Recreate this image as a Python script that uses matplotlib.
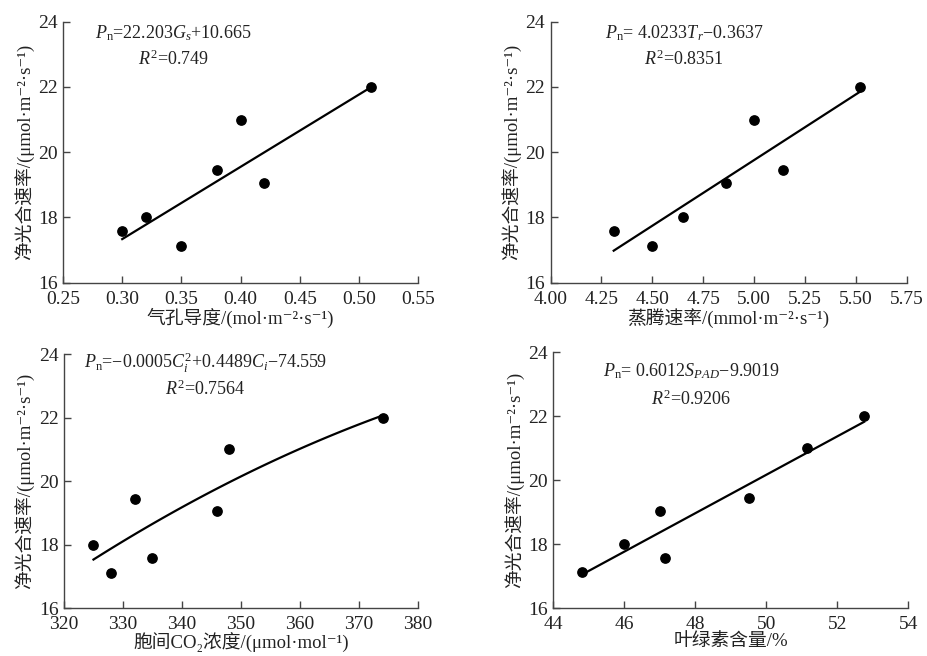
import numpy as np
import matplotlib
matplotlib.use("Agg")
import matplotlib.pyplot as plt

plt.rcParams['font.family'] = ['Liberation Serif', 'Noto Sans CJK SC', 'DejaVu Sans']
plt.rcParams['mathtext.fontset'] = 'custom'
plt.rcParams['mathtext.rm'] = 'Liberation Serif'
plt.rcParams['mathtext.it'] = 'Liberation Serif:italic'
plt.rcParams['axes.unicode_minus'] = False

# Pn values, paired with each driver variable
gs = [0.30, 0.32, 0.35, 0.38, 0.40, 0.42, 0.51]
pn_gs = [17.58, 18.0, 17.12, 19.45, 21.0, 19.05, 22.0]

tr = [4.31, 4.50, 4.65, 4.86, 5.00, 5.14, 5.52]
pn_tr = [17.58, 17.12, 18.0, 19.05, 21.0, 19.45, 22.0]

ci = [325, 328, 332, 335, 346, 348, 374]
pn_ci = [18.0, 17.12, 19.45, 17.58, 19.05, 21.0, 22.0]

spad = [44.8, 46.0, 47.0, 47.15, 49.5, 51.15, 52.75]
pn_spad = [17.12, 18.0, 19.05, 17.58, 19.45, 21.0, 22.0]

ylabel = '净光合速率/(μmol·m⁻²·s⁻¹)'
txt = '#222222'

fig = plt.figure(figsize=(9.27, 6.56), dpi=100)

panels = [
    dict(rect=[0.068, 0.569, 0.383, 0.398], x=gs, y=pn_gs, deg=1,
         xlim=(0.25, 0.55), xticks=np.arange(0.25, 0.551, 0.05), fmt='{:.2f}',
         xlabel='气孔导度/(mol·m⁻²·s⁻¹)',
         eq=r'$P_{\rm n}$=22.203$G_s$+10.665', r2=r'$R^2$=0.749',
         pos=(0.31, 0.955, 0.855)),
    dict(rect=[0.594, 0.569, 0.384, 0.398], x=tr, y=pn_tr, deg=1,
         xlim=(4.0, 5.75), xticks=np.arange(4.0, 5.751, 0.25), fmt='{:.2f}',
         xlabel='蒸腾速率/(mmol·m⁻²·s⁻¹)',
         eq=r'$P_{\rm n}$= 4.0233$T_r$−0.3637', r2=r'$R^2$=0.8351',
         pos=(0.375, 0.955, 0.855)),
    dict(rect=[0.069, 0.073, 0.382, 0.387], x=ci, y=pn_ci, deg=2,
         xlim=(320, 380), xticks=np.arange(320, 381, 10), fmt='{:.0f}',
         xlabel='胞间CO₂浓度/(μmol·mol⁻¹)',
         eq=r'$P_{\rm n}$=−0.0005$C_i^2$+0.4489$C_i$−74.559', r2=r'$R^2$=0.7564',
         pos=(0.40, 0.965, 0.86)),
    dict(rect=[0.597, 0.073, 0.383, 0.390], x=spad, y=pn_spad, deg=1,
         xlim=(44, 54), xticks=np.arange(44, 54.1, 2), fmt='{:.0f}',
         xlabel='叶绿素含量/%',
         eq=r'$P_{\rm n}$= 0.6012$S_{PAD}$−9.9019', r2=r'$R^2$=0.9206',
         pos=(0.389, 0.925, 0.815)),
]

for p in panels:
    ax = fig.add_axes(p['rect'])
    x = np.array(p['x'])
    y = np.array(p['y'])
    coef = np.polyfit(x, y, p['deg'])
    xs = np.linspace(x.min(), x.max(), 100)
    ax.plot(xs, np.polyval(coef, xs), color='black', lw=1.6)
    ax.scatter(x, y, s=45, color='black', zorder=3)

    ax.set_xlim(*p['xlim'])
    ax.set_ylim(16, 24)
    ax.set_xticks(p['xticks'])
    ax.set_xticklabels([p['fmt'].format(v) for v in p['xticks']])
    ax.set_yticks([16, 18, 20, 22, 24])
    for s in ['top', 'right']:
        ax.spines[s].set_visible(False)
    for s in ['left', 'bottom']:
        ax.spines[s].set_color('#444444')
        ax.spines[s].set_linewidth(1.0)
    ax.tick_params(direction='in', length=5, width=1.0, color='#444444',
                   labelsize=14, labelcolor=txt)
    ax.tick_params(axis='x', pad=6)
    ax.tick_params(axis='y', pad=4)
    ax.set_xlabel(p['xlabel'], fontsize=13.5, color=txt, labelpad=0)
    ax.set_ylabel(ylabel, fontsize=13.5, color=txt, labelpad=3)

    cx, y1, y2 = p['pos']
    ax.text(cx, y1, p['eq'], transform=ax.transAxes, ha='center', va='center',
            fontsize=13, color=txt)
    ax.text(cx, y2, p['r2'], transform=ax.transAxes, ha='center', va='center',
            fontsize=13, color=txt)

fig.savefig('out.png', dpi=100)
